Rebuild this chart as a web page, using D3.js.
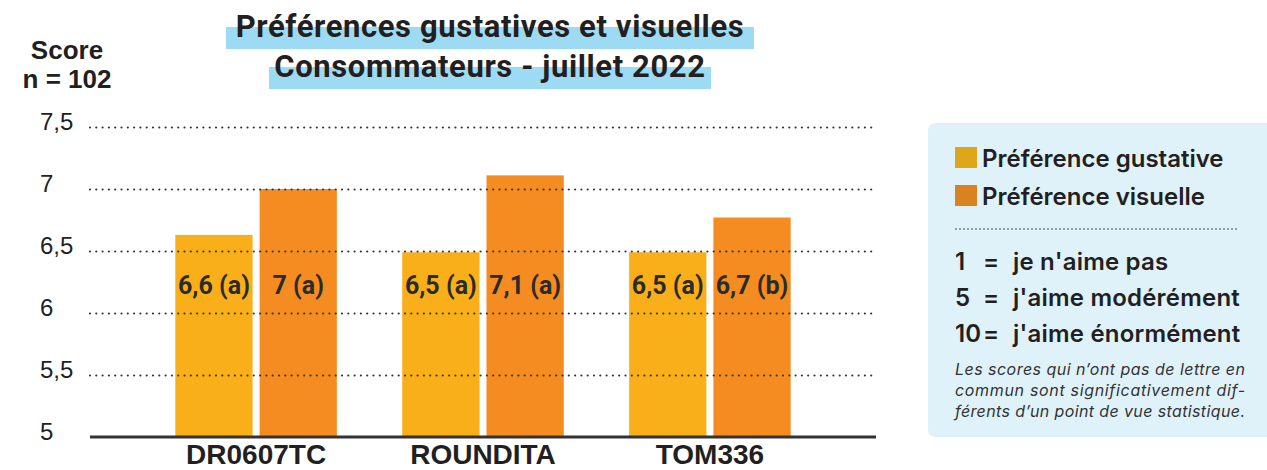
<!DOCTYPE html>
<head>
  <meta charset="utf-8">
  <script src="https://cdn.jsdelivr.net/npm/d3@7"></script>
  <style>
    body { margin:0; background:#fff; }
    svg { display:block; }
  </style>
</head>
<body>
<script>
// data
var categories = ["DR0607TC", "ROUNDITA", "TOM336"];
var series = ["Préférence gustative", "Préférence visuelle"];
var gustative = [6.63, 6.49, 6.49];
var visuelle = [7.0, 7.11, 6.77];
var gustLabels = ["6,6 (a)", "6,5 (a)", "6,5 (a)"];
var visLabels = ["7 (a)", "7,1 (a)", "6,7 (b)"];
var yTicks = [5, 5.5, 6, 6.5, 7, 7.5];
var scaleNotes = [["1", "=", "je n'aime pas"], ["5", "=", "j'aime modérément"], ["10", "=", "j'aime énormément"]];
var footnote = ["Les scores qui n’ont pas de lettre en", "commun sont significativement dif-", "férents d’un point de vue statistique."];

var W = 1267, H = 470;
var colors = ["#F9AF1A", "#F48C22"];
var legendColors = ["#DEA71B", "#DA8220"];

var svg = d3.select("body").append("svg").attr("width", W).attr("height", H);

// title
var title = svg.append("g");
title.append("rect").attr("x", 226).attr("y", 27).attr("width", 528).attr("height", 22).attr("fill", "#9DDBF5");
title.append("rect").attr("x", 269).attr("y", 67).attr("width", 442).attr("height", 22).attr("fill", "#9DDBF5");
title.selectAll("text").data(["Préférences gustatives et visuelles", "Consommateurs - juillet 2022"])
  .enter().append("text")
  .attr("x", 490).attr("y", function(d, i){ return 37 + i*40; })
  .attr("text-anchor", "middle")
  .style("font-family", "Roboto").style("font-weight", "bold").style("font-size", "31px")
  .style("letter-spacing", "0.6px")
  .attr("fill", "#231f20")
  .text(function(d){ return d; });

svg.selectAll(".ylab").data(["Score", "n = 102"]).enter().append("text")
  .attr("x", 67).attr("y", function(d, i){ return 59 + i*29; })
  .attr("text-anchor", "middle")
  .style("font-family", "Liberation Sans").style("font-weight", "bold").style("font-size", "26px")
  .attr("fill", "#231f20")
  .text(function(d){ return d; });

// scales
var y = d3.scaleLinear().domain([5, 7.5]).range([437, 127]);
var x0 = d3.scaleBand().domain(categories).range([90, 876]).paddingInner(0.288).paddingOuter(0.376);
var x1 = d3.scaleBand().domain([0, 1]).range([0, x0.bandwidth()]).paddingInner(0.083);

// y axis + dotted grid
var yAxis = svg.append("g").attr("transform", "translate(90,0)")
  .call(d3.axisLeft(y).tickValues(yTicks).tickSize(-786)
    .tickFormat(function(d){ return String(d).replace(".", ","); }));
yAxis.select(".domain").remove();
yAxis.selectAll(".tick line")
  .attr("stroke", "#333").attr("stroke-width", 2.2)
  .attr("stroke-dasharray", "0 6.3").attr("stroke-linecap", "round")
  .attr("opacity", function(d){ return d === 5 ? 0 : 1; });
yAxis.selectAll(".tick text")
  .attr("x", -50).attr("dy", "0.1em").attr("text-anchor", "start")
  .style("font-family", "Liberation Sans").style("font-size", "24px").attr("fill", "#231f20");

// bars
var rows = categories.map(function(c, i){
  return [
    {cat: c, s: 0, v: gustative[i], label: gustLabels[i]},
    {cat: c, s: 1, v: visuelle[i], label: visLabels[i]}
  ];
});
var groups = svg.selectAll(".grp").data(rows).enter().append("g")
  .attr("transform", function(d){ return "translate(" + x0(d[0].cat) + ",0)"; });
groups.selectAll("rect").data(function(d){ return d; }).enter().append("rect")
  .attr("x", function(d){ return x1(d.s); })
  .attr("y", function(d){ return y(d.v); })
  .attr("width", x1.bandwidth())
  .attr("height", function(d){ return y(5) - y(d.v); })
  .attr("fill", function(d){ return colors[d.s]; });

// grid drawn over bars
yAxis.raise();

groups.selectAll(".vl").data(function(d){ return d; }).enter().append("text")
  .attr("x", function(d){ return x1(d.s) + x1.bandwidth()/2; })
  .attr("y", 294)
  .attr("text-anchor", "middle")
  .style("font-family", "Roboto").style("font-weight", "bold").style("font-size", "25px")
  .attr("fill", "#2b2b2b")
  .text(function(d){ return d.label; });

// baseline
svg.append("line").attr("x1", 90).attr("x2", 876).attr("y1", y(5)).attr("y2", y(5))
  .attr("stroke", "#333").attr("stroke-width", 3);

// x labels
svg.append("g").attr("transform", "translate(0," + y(5) + ")")
  .call(d3.axisBottom(x0).tickSize(0))
  .call(function(g){ g.select(".domain").remove(); })
  .selectAll("text")
  .attr("y", 27).attr("dy", 0)
  .style("font-family", "Liberation Sans").style("font-weight", "bold").style("font-size", "28px")
  .attr("fill", "#231f20");

// legend box
var lg = svg.append("g");
lg.append("rect").attr("x", 928).attr("y", 123).attr("width", 360).attr("height", 314)
  .attr("rx", 7).attr("fill", "#DFF2FA");
series.forEach(function(s, i){
  lg.append("rect").attr("x", 955).attr("y", 147 + i*38).attr("width", 22).attr("height", 21)
    .attr("fill", legendColors[i]);
  lg.append("text").attr("x", 982).attr("y", 167 + i*38)
    .style("font-family", "Inter").style("font-weight", 600).style("font-size", "24px")
    .style("letter-spacing", "0px").attr("fill", "#231f20").text(s);
});
lg.append("line").attr("x1", 956).attr("x2", 1238).attr("y1", 229).attr("y2", 229)
  .attr("stroke", "#333").attr("stroke-width", 1.6)
  .attr("stroke-dasharray", "0 4").attr("stroke-linecap", "round");
scaleNotes.forEach(function(r, i){
  var yy = 270 + i*36;
  [955, 983, 1013].forEach(function(xx, j){
    lg.append("text").attr("x", xx).attr("y", yy)
      .style("font-family", "Inter").style("font-weight", 600).style("font-size", "24px")
      .style("letter-spacing", "0.2px").attr("fill", "#231f20").text(r[j]);
  });
});
footnote.forEach(function(t, i){
  lg.append("text").attr("x", 955).attr("y", 375 + i*21)
    .style("font-family", "Inter").style("font-style", "italic").style("font-size", "16px")
    .attr("textLength", 290).attr("lengthAdjust", "spacing")
    .attr("fill", "#333").text(t);
});
</script>
</body>
